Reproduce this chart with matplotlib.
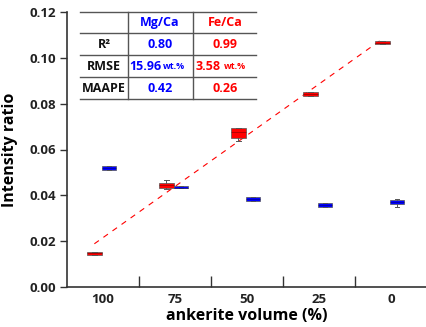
import numpy as np
import matplotlib
matplotlib.use("Agg")
import matplotlib.pyplot as plt

plt.rcParams['font.family'] = ['Open Sans', 'DejaVu Sans']

categories = ["100", "75", "50", "25", "0"]

# Fe/Ca (red) box stats
fe_med = [0.0147, 0.0446, 0.0676, 0.0842, 0.1066]
fe_q1 = [0.0140, 0.0434, 0.0649, 0.0835, 0.1059]
fe_q3 = [0.0153, 0.0456, 0.0692, 0.0849, 0.1072]
fe_lo = [0.0140, 0.0427, 0.0637, 0.0835, 0.1059]
fe_hi = [0.0153, 0.0467, 0.0692, 0.0849, 0.1072]

# Mg/Ca (blue) box stats
mg_med = [0.0519, 0.0434, 0.0383, 0.0358, 0.0370]
mg_q1 = [0.0512, 0.0430, 0.0374, 0.0351, 0.0361]
mg_q3 = [0.0526, 0.0440, 0.0392, 0.0365, 0.0379]
mg_lo = [0.0512, 0.0430, 0.0374, 0.0351, 0.0350]
mg_hi = [0.0526, 0.0440, 0.0392, 0.0365, 0.0383]

yticks = [0.00, 0.02, 0.04, 0.06, 0.08, 0.10, 0.12]

table_cols = ["Mg/Ca", "Fe/Ca"]
table_rows = ["R²", "RMSE", "MAAPE"]
mg_vals = ["0.80", "15.96", "0.42"]
fe_vals = ["0.99", "3.58", "0.26"]
unit = "wt.%"

BLUE = "#0000ff"
RED = "#ff0000"
W, H = 427, 327
fig = plt.figure(figsize=(W / 100, H / 100), dpi=100)
ax = fig.add_axes([67 / W, 1 - 287 / H, 1 - 67 / W, 275 / H])

x = np.arange(len(categories)) + 0.5

def stats(med, q1, q3, lo, hi):
    return [dict(med=m, q1=a, q3=b, whislo=l, whishi=h, fliers=[])
            for m, a, b, l, h in zip(med, q1, q3, lo, hi)]

bw = 0.2
for st, off, col, mc in [(stats(fe_med, fe_q1, fe_q3, fe_lo, fe_hi), -0.12, RED, "#7a0000"),
                         (stats(mg_med, mg_q1, mg_q3, mg_lo, mg_hi), 0.08, BLUE, "#00007a")]:
    ax.bxp(st, positions=x + off, widths=bw, patch_artist=True, showfliers=False,
           boxprops=dict(facecolor=col, edgecolor="#555555", linewidth=0.5),
           medianprops=dict(color=mc, linewidth=0.4),
           whiskerprops=dict(color="#555555", linewidth=0.7),
           capprops=dict(color="#555555", linewidth=0.7), capwidths=0.06,
           manage_ticks=False, zorder=3)

# linear fit of Fe/Ca medians
xf = x - 0.12
p = np.polyfit(xf, fe_med, 1)
ax.plot([xf[0], xf[-1]], np.polyval(p, [xf[0], xf[-1]]), color=RED, lw=0.8,
        ls=(0, (5, 5)), zorder=2)

ax.set_xlim(0, 5)
ax.set_ylim(0, 0.12)
ax.set_yticks(yticks)
ax.set_yticklabels([f"{v:.2f}" for v in yticks])
ax.set_xticks([1, 2, 3, 4])
ax.set_xticklabels([])
ax.set_xticks(x, minor=True)
ax.set_xticklabels(categories, minor=True)
ax.tick_params(axis='x', which='major', direction='in', length=8, width=1, color="#333333")
ax.tick_params(axis='x', which='minor', length=0, pad=4, labelsize=9.5, labelcolor="#222222")
ax.tick_params(axis='y', direction='out', length=5, width=1, color="#333333",
               labelsize=9.5, labelcolor="#222222", pad=3)
for lab in ax.get_xticklabels(minor=True) + ax.get_yticklabels():
    lab.set_fontweight('bold')
for s in ['top', 'right']:
    ax.spines[s].set_visible(False)
for s in ['left', 'bottom']:
    ax.spines[s].set_color("#333333")
    ax.spines[s].set_linewidth(1.2)

ax.set_ylabel("Intensity ratio", fontsize=11.5, fontweight='bold', labelpad=8)
ax.set_xlabel("ankerite volume (%)", fontsize=11.5, fontweight='bold', labelpad=2)

# table (pixel layout)
def fx(px):
    return px / W

def fy(py):
    return 1 - py / H

hl = [12, 33, 55, 77, 99]
for yy in hl:
    fig.add_artist(plt.Line2D([fx(80), fx(256)], [fy(yy), fy(yy)], color="#555555", lw=1))
for xx in [128, 193]:
    fig.add_artist(plt.Line2D([fx(xx), fx(xx)], [fy(12), fy(99)], color="#555555", lw=1))

tk = dict(fontsize=9, fontweight='bold', ha='center', va='center')
fig.text(fx(160), fy(22.5), table_cols[0], color=BLUE, **tk)
fig.text(fx(225), fy(22.5), table_cols[1], color=RED, **tk)
rows_y = [44, 66, 88]
for r, yy in zip(table_rows, rows_y):
    fig.text(fx(104), fy(yy), r, color="#111111", **tk)
for i, yy in enumerate(rows_y):
    if table_rows[i] == "RMSE":
        fig.text(fx(161), fy(yy), mg_vals[i], color=BLUE, fontsize=9, fontweight='bold',
                 ha='right', va='center')
        fig.text(fx(163), fy(yy + 0.5), unit, color=BLUE, fontsize=6.5, fontweight='bold',
                 ha='left', va='center')
        fig.text(fx(221), fy(yy), fe_vals[i], color=RED, fontsize=9, fontweight='bold',
                 ha='right', va='center')
        fig.text(fx(224), fy(yy + 0.5), unit, color=RED, fontsize=6.5, fontweight='bold',
                 ha='left', va='center')
    else:
        fig.text(fx(160), fy(yy), mg_vals[i], color=BLUE, **tk)
        fig.text(fx(225), fy(yy), fe_vals[i], color=RED, **tk)

fig.savefig("out.png", dpi=100)
